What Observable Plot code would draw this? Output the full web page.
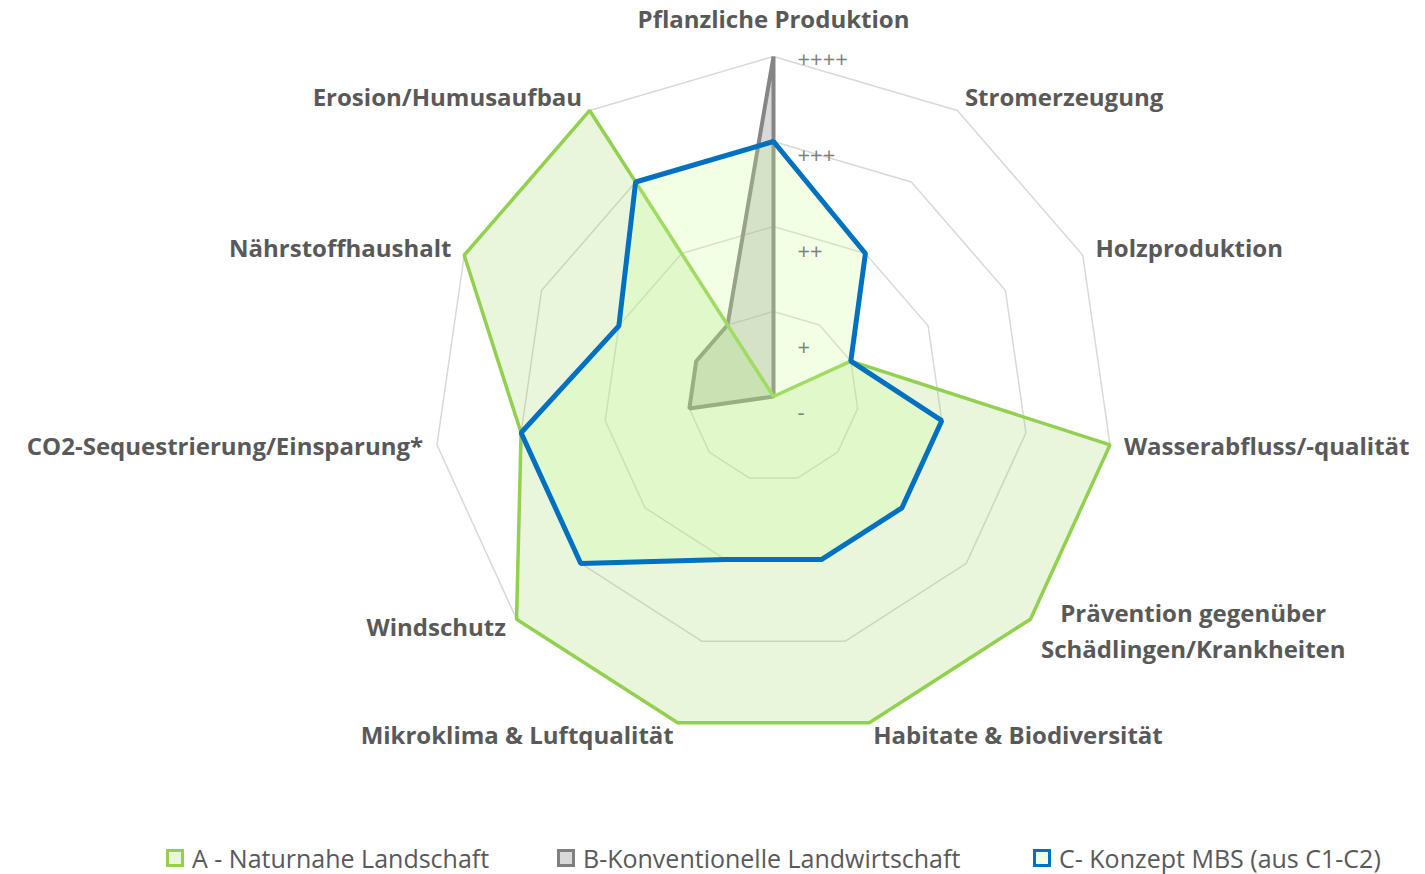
<!DOCTYPE html>
<html>
<head>
<meta charset="utf-8">
<script src="https://cdn.jsdelivr.net/npm/d3@7"></script>
<script src="https://cdn.jsdelivr.net/npm/@observablehq/plot@0.6"></script>
<style>
  body { margin: 0; background: #fff; font-family: "Open Sans", sans-serif; }
  #chart svg { display: block; }
  #legend { position: relative; height: 44px; }
  .item { position: absolute; top: 13px; display: flex; align-items: center; font-size: 25px; line-height: 30px; color: #595959; white-space: nowrap; }
  .sw { width: 12px; height: 12px; border: 3px solid; margin-right: 8px; }
</style>
</head>
<body>
<div id="chart"></div>
<div id="legend"></div>
<script>
// ---- data ----
const categories = [
  "Pflanzliche Produktion",
  "Stromerzeugung",
  "Holzproduktion",
  "Wasserabfluss/-qualität",
  "Prävention gegenüber\nSchädlingen/Krankheiten",
  "Habitate & Biodiversität",
  "Mikroklima & Luftqualität",
  "Windschutz",
  "CO2-Sequestrierung/Einsparung*",
  "Nährstoffhaushalt",
  "Erosion/Humusaufbau"
];
const seriesNames = ["A - Naturnahe Landschaft", "B-Konventionelle Landwirtschaft", "C- Konzept MBS (aus C1-C2)"];
const valuesA = [0, 0, 1, 4, 4, 4, 4, 4, 3, 4, 4];
const valuesB = [4, 0, 0, 0, 0, 0, 0, 0, 1, 1, 1];
const valuesC = [3, 2, 1, 2, 2, 2, 2, 3, 3, 2, 3];
const tickValues = [0, 1, 2, 3, 4];
const tickLabels = ["-", "+", "++", "+++", "++++"];

// ---- geometry ----
const W = 1425, H = 830, CX = 773, CY = 396, U = 85; // px per unit
const N = categories.length;
const ang = i => i * 2 * Math.PI / N;
const P = (v, i) => ({x: v * Math.sin(ang(i)), y: v * Math.cos(ang(i)), i});

const poly = vals => vals.map((v, i) => P(v, i));
const rings = tickValues.filter(v => v > 0).flatMap(v => categories.map((c, i) => ({...P(v, i), ring: v})));

const FS = 24;
const labelFont = `bold ${FS}px 'Open Sans'`;
const measure = (txt, font) => {
  const ctx = document.createElement("canvas").getContext("2d");
  ctx.font = font;
  return Math.max(...txt.split("\n").map(t => ctx.measureText(t).width));
};

const off = 14 / U;
const labels = categories.map((c, i) => {
  const s = Math.sin(ang(i));
  const r = i === 0 ? (CY - 20) / U : 4 + off;
  return {text: c, i, s, x: r * s, y: r * Math.cos(ang(i)), multi: c.includes("\n")};
});
const rightLabels = labels.filter(d => d.s > 0.01 && !d.multi);
const leftLabels = labels.filter(d => d.s < -0.01);
const topLabels = labels.filter(d => Math.abs(d.s) <= 0.01);
const multiLabels = labels.filter(d => d.multi);
const multiDx = measure(multiLabels[0].text, labelFont) / 2;

const tickR = v => v === 0 ? -0.19 : v * 1.126 - 0.55;
const ticks = tickValues.map((v, k) => ({v, label: tickLabels[k]}));

const common = {curve: "linear-closed", strokeLinejoin: "miter"};
const txt = {fontSize: FS, fontWeight: "bold", fill: "#595959", lineAnchor: "middle"};

const chart = Plot.plot({
  width: W, height: H,
  margin: 0,
  x: {domain: [-CX / U, (W - CX) / U], range: [0, W], axis: null},
  y: {domain: [-(H - CY) / U, CY / U], range: [H, 0], axis: null},
  style: {fontFamily: "'Open Sans', sans-serif", background: "#fff"},
  marks: [
    Plot.line(rings, {x: "x", y: "y", z: "ring", curve: "linear-closed", stroke: "#d9d9d9", strokeWidth: 1.5}),
    Plot.line(poly(valuesB), {x: "x", y: "y", ...common, fill: "#808080", fillOpacity: 0.3, stroke: "#858585", strokeWidth: 4}),
    Plot.line(poly(valuesA), {x: "x", y: "y", ...common, fill: "#92D050", fillOpacity: 0.2, stroke: "#92D050", strokeWidth: 3.5}),
    Plot.line(poly(valuesC), {x: "x", y: "y", ...common, fill: "#ccff99", fillOpacity: 0.25, stroke: "#0070C0", strokeWidth: 5}),
    Plot.text(ticks, {x: 0, y: d => tickR(d.v), text: "label", textAnchor: "start", dx: 24, fontSize: 22, fill: "#7f7f7f"}),
    Plot.text(rightLabels, {x: "x", y: "y", text: "text", textAnchor: "start", ...txt}),
    Plot.text(leftLabels, {x: "x", y: "y", text: "text", textAnchor: "end", ...txt}),
    Plot.text(topLabels, {x: "x", y: "y", text: "text", textAnchor: "middle", ...txt}),
    Plot.text(multiLabels, {x: "x", y: "y", text: "text", textAnchor: "middle", dx: multiDx, lineHeight: 36 / FS, ...txt})
  ]
});
document.getElementById("chart").appendChild(chart);

// ---- legend ----
const swatches = [
  {border: "#92D050", fill: "#e9f6dc", left: 166},
  {border: "#808080", fill: "#d9d9d9", left: 557},
  {border: "#0070C0", fill: "#f2ffe5", left: 1033}
];
const legend = document.getElementById("legend");
seriesNames.forEach((name, k) => {
  const it = document.createElement("div");
  it.className = "item";
  it.style.left = swatches[k].left + "px";
  const sw = document.createElement("span");
  sw.className = "sw";
  sw.style.borderColor = swatches[k].border;
  sw.style.background = swatches[k].fill;
  it.appendChild(sw);
  it.appendChild(document.createTextNode(name));
  legend.appendChild(it);
});
</script>
</body>
</html>
